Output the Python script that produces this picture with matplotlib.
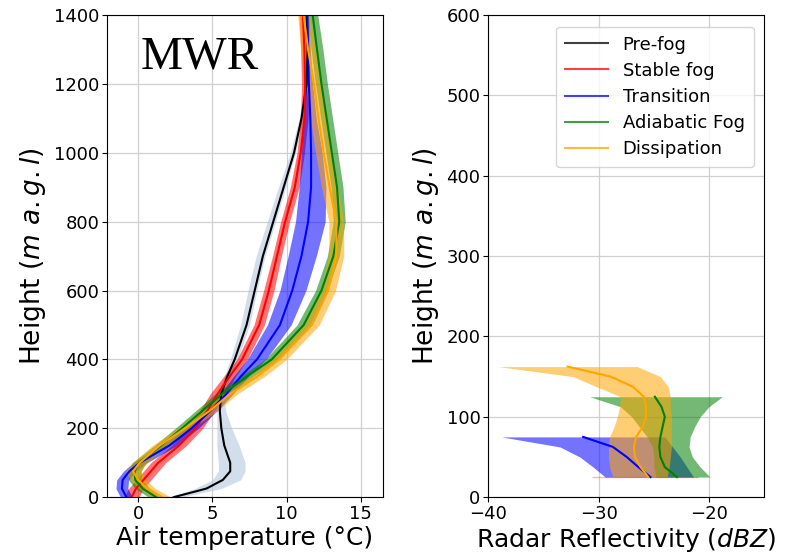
import matplotlib.pyplot as plt
import numpy as np

# ---- MWR air temperature profiles (left) ----
h_mwr = [0, 25, 50, 75, 100, 150, 200, 250, 300, 350, 400, 500, 600, 700, 800, 900, 1000, 1100, 1200, 1300, 1400]

pre_t = [2.4, 4.6, 5.7, 6.2, 6.2, 5.8, 5.6, 5.5, 5.6, 6.0, 6.5, 7.3, 7.85, 8.4, 9.1, 9.8, 10.5, 11.0, 11.35, 11.42, 11.35]
pre_lo = [2.0, 3.8, 5.0, 5.4, 5.4, 5.3, 5.3, 5.3, 5.4, 5.8, 6.2, 6.9, 7.4, 7.95, 8.7, 9.45, 10.25, 10.85, 11.2, 11.3, 11.25]
pre_hi = [2.9, 5.6, 6.9, 7.2, 7.2, 6.8, 6.3, 5.9, 5.8, 6.2, 6.7, 7.5, 8.0, 8.55, 9.25, 9.95, 10.6, 11.15, 11.45, 11.52, 11.45]

stb_t = [-0.45, -0.15, 0.35, 0.85, 1.35, 2.75, 3.85, 4.65, 5.35, 6.15, 7.0, 8.15, 8.8, 9.35, 9.9, 10.55, 10.95, 11.2, 11.25, 11.2, 11.1]
stb_lo = [-0.95, -0.65, -0.15, 0.35, 0.85, 2.25, 3.35, 4.15, 4.85, 5.75, 6.65, 7.8, 8.45, 9.05, 9.6, 10.25, 10.7, 10.95, 11.0, 10.95, 10.85]
stb_hi = [0.05, 0.35, 0.85, 1.35, 1.85, 3.25, 4.35, 5.15, 5.85, 6.55, 7.35, 8.5, 9.15, 9.65, 10.2, 10.85, 11.2, 11.45, 11.5, 11.45, 11.35]

tra_t = [-0.8, -1.1, -1.05, -0.6, 0.1, 2.1, 3.6, 4.85, 5.95, 6.9, 8.0, 9.55, 10.38, 11.0, 11.45, 11.65, 11.65, 11.6, 11.5, 11.45, 11.4]
tra_lo = [-1.2, -1.5, -1.45, -1.0, -0.35, 1.6, 3.15, 4.45, 5.55, 6.4, 7.35, 8.7, 9.55, 10.1, 10.6, 10.85, 11.0, 11.15, 11.25, 11.3, 11.3]
tra_hi = [-0.4, -0.7, -0.65, -0.2, 0.6, 2.6, 4.05, 5.3, 6.4, 7.4, 8.6, 10.3, 11.3, 12.0, 12.6, 12.65, 12.4, 12.0, 11.75, 11.6, 11.5]

adi_t = [1.2, 0.3, -0.2, -0.25, 0.05, 1.55, 2.95, 4.3, 5.65, 7.3, 9.0, 11.15, 12.35, 13.15, 13.55, 13.4, 13.05, 12.7, 12.35, 12.05, 11.76]
adi_lo = [0.7, -0.2, -0.65, -0.7, -0.4, 1.1, 2.5, 3.85, 5.2, 6.85, 8.55, 10.7, 11.95, 12.75, 13.15, 13.0, 12.65, 12.3, 11.95, 11.65, 11.4]
adi_hi = [1.7, 0.8, 0.25, 0.2, 0.5, 2.0, 3.4, 4.75, 6.1, 7.75, 9.45, 11.6, 12.75, 13.55, 13.95, 13.8, 13.45, 13.1, 12.75, 12.45, 12.1]

dis_t = [1.6, 0.6, 0.0, -0.35, 0.1, 1.45, 3.15, 4.8, 6.2, 8.0, 9.5, 11.7, 12.8, 13.35, 13.35, 12.9, 12.5, 12.15, 11.85, 11.45, 11.15]
dis_lo = [1.0, 0.05, -0.5, -0.85, -0.4, 0.95, 2.65, 4.3, 5.7, 7.5, 9.0, 11.2, 12.3, 12.85, 12.85, 12.35, 11.95, 11.6, 11.3, 10.95, 10.75]
dis_hi = [2.2, 1.15, 0.5, 0.15, 0.6, 1.95, 3.65, 5.3, 6.7, 8.5, 10.0, 12.2, 13.3, 13.85, 13.85, 13.45, 13.05, 12.7, 12.4, 11.95, 11.55]

# ---- Radar reflectivity profiles (right) ----
h_tra = [25, 37.5, 50, 62.5, 75]
tra_z = [-25.3, -26.4, -27.45, -28.7, -31.4]
tra_zlo = [-29.4, -30.5, -31.7, -33.5, -38.8]
tra_zhi = [-21.4, -22.0, -22.6, -23.3, -24.0]

h_adi = [25, 37.5, 50, 62.5, 75, 87.5, 100, 112.5, 125]
adi_z = [-22.9, -24.0, -24.4, -24.5, -24.4, -24.2, -24.0, -24.3, -24.9]
adi_zlo = [-24.8, -25.0, -25.0, -25.1, -25.6, -26.3, -27.0, -28.0, -30.8]
adi_zhi = [-19.9, -20.8, -21.5, -21.8, -21.7, -21.3, -20.8, -20.0, -18.8]

h_dis = [25, 37.5, 50, 62.5, 75, 87.5, 100, 112.5, 125, 137.5, 150, 162.5]
dis_z = [-25.5, -26.2, -26.7, -26.8, -26.6, -26.0, -25.7, -25.7, -25.9, -26.9, -28.9, -32.8]
dis_zlo = [-28.7, -29.0, -29.1, -29.1, -29.0, -28.6, -28.3, -28.1, -28.0, -30.2, -32.3, -39.1]
dis_zhi = [-23.8, -23.6, -23.5, -23.4, -23.4, -23.4, -23.4, -23.5, -23.5, -23.7, -24.4, -26.5]

h_stb = [25]
stb_zlo = [-30.6]
stb_zhi = [-21.0]

labels = ['Pre-fog', 'Stable fog', 'Transition', 'Adiabatic Fog', 'Dissipation']

fig = plt.figure(figsize=(7.99, 5.53), dpi=100)
ax1 = fig.add_axes([0.134, 0.101, 0.3454, 0.8716])
ax2 = fig.add_axes([0.611, 0.101, 0.3454, 0.8716])

# left panel
ax1.fill_betweenx(h_mwr, pre_lo, pre_hi, color='lightsteelblue', alpha=0.55, lw=0)
ax1.plot(pre_t, h_mwr, color='black', lw=1.5)
for t, lo, hi, c in [(stb_t, stb_lo, stb_hi, 'red'), (tra_t, tra_lo, tra_hi, 'blue'),
                     (adi_t, adi_lo, adi_hi, 'green'), (dis_t, dis_lo, dis_hi, 'orange')]:
    ax1.fill_betweenx(h_mwr, lo, hi, color=c, alpha=0.55, lw=0)
    ax1.plot(t, h_mwr, color=c, lw=1.5)

ax1.set_xlim(-2.1, 16.5)
ax1.set_ylim(0, 1400)
ax1.set_xticks([0, 5, 10, 15])
ax1.set_yticks(np.arange(0, 1401, 200))
ax1.grid(True, color='#d0d0d0', lw=0.9)
ax1.set_axisbelow(True)
ax1.set_xlabel('Air temperature (°C)', fontsize=18, labelpad=2)
ax1.set_ylabel('Height ($m\\ a.g.l$)', fontsize=19)
ax1.tick_params(labelsize=13, pad=2)
ax1.text(0.12, 0.89, 'MWR', transform=ax1.transAxes, fontsize=34,
         family='Liberation Serif', va='baseline')

# right panel
ax2.plot([], [], color='black', lw=1.5, label=labels[0])
ax2.hlines(h_stb, stb_zlo, stb_zhi, color='red', alpha=0.3, lw=1)
ax2.plot([], [], color='red', lw=1.5, label=labels[1])
for h, z, lo, hi, c, lab in [(h_tra, tra_z, tra_zlo, tra_zhi, 'blue', labels[2]),
                             (h_adi, adi_z, adi_zlo, adi_zhi, 'green', labels[3]),
                             (h_dis, dis_z, dis_zlo, dis_zhi, 'orange', labels[4])]:
    ax2.fill_betweenx(h, lo, hi, color=c, alpha=0.55, lw=0)
    ax2.plot(z, h, color=c, lw=1.5, label=lab)

ax2.set_xlim(-40, -15)
ax2.set_ylim(0, 600)
ax2.set_xticks([-40, -30, -20])
ax2.set_yticks(np.arange(0, 601, 100))
ax2.grid(True, color='#d0d0d0', lw=0.9)
ax2.set_axisbelow(True)
ax2.set_xlabel('Radar Reflectivity ($dBZ$)', fontsize=18, labelpad=2)
ax2.set_ylabel('Height ($m\\ a.g.l$)', fontsize=19)
ax2.tick_params(labelsize=13, pad=2)
leg = ax2.legend(loc='upper right', bbox_to_anchor=(0.995, 0.995), fontsize=13,
                 handlelength=2.4, labelspacing=0.45, borderpad=0.5)
for line in leg.get_lines():
    line.set_alpha(0.75)

fig.savefig('out.png', dpi=100)
